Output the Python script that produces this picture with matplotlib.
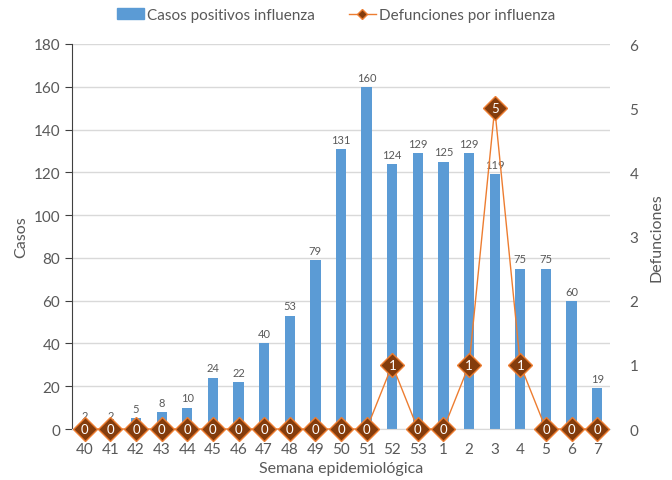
import matplotlib.pyplot as plt
import matplotlib.lines as mlines
import matplotlib.patches as mpatches
import numpy as np

plt.rcParams['font.family'] = ['Lato', 'DejaVu Sans']

semanas = ['40', '41', '42', '43', '44', '45', '46', '47', '48', '49', '50',
           '51', '52', '53', '1', '2', '3', '4', '5', '6', '7']
casos = [2, 2, 5, 8, 10, 24, 22, 40, 53, 79, 131, 160, 124, 129, 125, 129,
         119, 75, 75, 60, 19]
defunciones = [0, 0, 0, 0, 0, 0, 0, 0, 0, 0, 0, 0, 1, 0, 0, 1, 5, 1, 0, 0, 0]

gray = '#595959'
blue = '#5B9BD5'
orange = '#ED7D31'
brown = '#843C0C'

fig = plt.figure(figsize=(6.72, 4.81), dpi=100)
ax = fig.add_axes([72 / 672, 1 - 430 / 481, 538 / 672, 385 / 481])
x = np.arange(len(semanas))

ax.bar(x, casos, width=0.4, color=blue, zorder=2)
for xi, v in zip(x, casos):
    ax.annotate(str(v), (xi, v), xytext=(0, 3), textcoords='offset points',
                ha='center', va='bottom', fontsize=8, color=gray, zorder=3)

ax.set_xlim(-0.5, len(semanas) - 0.5)
ax.set_ylim(0, 180)
ax.set_yticks(np.arange(0, 181, 20))
ax.set_xticks(x)
ax.set_xticklabels(semanas)
ax.yaxis.grid(True, color='#D9D9D9', linewidth=1, zorder=0)
ax.set_axisbelow(True)
for s in ['top', 'right']:
    ax.spines[s].set_visible(False)
ax.spines['left'].set_color('#404040')
ax.spines['bottom'].set_color('#D9D9D9')
ax.tick_params(axis='y', colors=gray, labelsize=11, length=5, direction='out')
ax.tick_params(axis='y', color='#404040')
ax.tick_params(axis='x', colors=gray, labelsize=11, length=0, pad=9)
ax.set_ylabel('Casos', color=gray, fontsize=11.5)
ax.set_xlabel('Semana epidemiológica', color=gray, fontsize=11.5, labelpad=4)

ax2 = ax.twinx()
ax2.set_ylim(0, 6)
ax2.set_yticks(range(7))
for s in ['top', 'right', 'left', 'bottom']:
    ax2.spines[s].set_visible(False)
ax2.tick_params(axis='y', colors=gray, labelsize=11, length=0, pad=14)
ax2.set_ylabel('Defunciones', color=gray, fontsize=11.5, labelpad=8)
ax2.plot(x, defunciones, color=orange, linewidth=1, marker='D', markersize=12,
         markerfacecolor=brown, markeredgecolor=orange, markeredgewidth=1,
         zorder=4, clip_on=False)
for xi, v in zip(x, defunciones):
    ax2.text(xi, v, str(v), ha='center', va='center', fontsize=9.5,
             color='white', zorder=5)

h1 = mpatches.Patch(color=blue, label='Casos positivos influenza')
h2 = mlines.Line2D([], [], color=orange, linewidth=1, marker='D', markersize=5,
                   markerfacecolor=brown, markeredgecolor=orange,
                   label='Defunciones por influenza')
fig.legend(handles=[h1, h2], loc='upper center', bbox_to_anchor=(0.5, 1.01),
           ncol=2, frameon=False, fontsize=11, labelcolor=gray,
           handlelength=1.8, handletextpad=0.2, columnspacing=2.2)

plt.savefig('out.png', dpi=100)
